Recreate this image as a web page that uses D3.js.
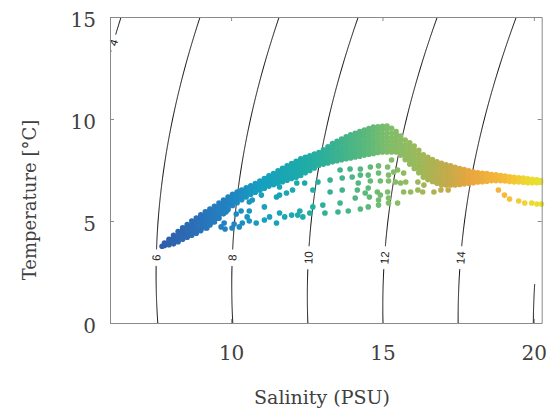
<!DOCTYPE html>
<html>
<head>
<meta charset="utf-8">
<script src="https://cdn.jsdelivr.net/npm/d3@7"></script>
<style>
  body { margin: 0; background: #fff; }
</style>
</head>
<body>
<script>
// ---------- data ----------
var salTicks = [10, 15, 20];
var tempTicks = [0, 5, 10, 15];
var sigmaLevels = [4, 6, 8, 10, 12, 14, 16];

// dense band: one salinity column, list of temperatures
var bandSal = [7.72, 7.8, 7.95, 8.1, 8.25, 8.4, 8.55, 8.7, 8.85, 9.0, 9.15, 9.3, 9.45, 9.6, 9.75, 9.9,
    10.05, 10.2, 10.35, 10.5, 10.65, 10.8, 10.95, 11.1, 11.25, 11.4, 11.55, 11.7, 11.85, 12.0, 12.15,
    12.3, 12.45, 12.6, 12.75, 12.9, 13.05, 13.2, 13.35, 13.5, 13.65, 13.8, 13.95, 14.1, 14.25, 14.4,
    14.55, 14.7, 14.85, 15.0, 15.15, 15.3, 15.45, 15.6, 15.75, 15.9, 16.05, 16.2, 16.35, 16.5, 16.65,
    16.8, 16.95, 17.1, 17.25, 17.4, 17.55, 17.7, 17.85, 18.0, 18.15, 18.3, 18.45, 18.6, 18.75, 18.9,
    19.05, 19.2, 19.35, 19.5, 19.65, 19.8, 19.95, 20.1, 20.22];
var bandTemp = [
    [3.76], [3.8, 3.92], [3.84, 4.0, 4.1], [3.88, 4.05, 4.2, 4.3], [3.98, 4.12, 4.28, 4.48],
    [4.1, 4.25, 4.4, 4.55, 4.67], [4.2, 4.35, 4.5, 4.7, 4.82], [4.3, 4.45, 4.6, 4.8, 5.0],
    [4.4, 4.55, 4.72, 4.9, 5.05, 5.15], [4.53, 4.7, 4.88, 5.05, 5.2, 5.3],
    [4.67, 4.85, 5.0, 5.17, 5.32, 5.45], [4.81, 4.97, 5.13, 5.3, 5.45, 5.58],
    [4.95, 5.1, 5.27, 5.43, 5.58, 5.72], [5.14, 5.3, 5.45, 5.6, 5.75, 5.88],
    [5.35, 5.5, 5.65, 5.8, 5.93, 6.03], [5.56, 5.7, 5.85, 6.0, 6.17], [5.76, 5.9, 6.05, 6.2, 6.31],
    [5.9, 6.05, 6.2, 6.32, 6.42], [6.04, 6.18, 6.33, 6.45, 6.52], [6.18, 6.33, 6.48, 6.63],
    [6.31, 6.45, 6.6, 6.73], [6.41, 6.55, 6.7, 6.84], [6.51, 6.65, 6.8, 6.96], [6.61, 6.75, 6.9, 7.08],
    [6.71, 6.85, 7.0, 7.12, 7.21], [6.78, 6.92, 7.07, 7.2, 7.33], [6.85, 7.0, 7.15, 7.3, 7.46],
    [6.93, 7.08, 7.23, 7.4, 7.58], [7.0, 7.15, 7.3, 7.45, 7.6, 7.7], [7.08, 7.22, 7.38, 7.55, 7.7, 7.82],
    [7.15, 7.3, 7.45, 7.62, 7.78, 7.93], [7.23, 7.38, 7.53, 7.7, 7.88, 8.05],
    [7.36, 7.5, 7.66, 7.82, 7.98, 8.12], [7.48, 7.62, 7.78, 7.94, 8.08, 8.2],
    [7.6, 7.74, 7.9, 8.05, 8.18, 8.28], [7.73, 7.87, 8.03, 8.18, 8.35],
    [7.79, 7.93, 8.09, 8.25, 8.4, 8.49], [7.84, 7.98, 8.14, 8.3, 8.47, 8.64],
    [7.9, 8.05, 8.2, 8.38, 8.55, 8.7, 8.8], [7.95, 8.1, 8.25, 8.42, 8.6, 8.76, 8.91],
    [8.0, 8.15, 8.3, 8.48, 8.65, 8.85, 9.02], [8.05, 8.2, 8.35, 8.52, 8.7, 8.88, 9.02, 9.13],
    [8.09, 8.25, 8.4, 8.58, 8.76, 8.93, 9.08, 9.22], [8.14, 8.3, 8.45, 8.63, 8.8, 8.98, 9.15, 9.3],
    [8.18, 8.33, 8.5, 8.68, 8.86, 9.04, 9.22, 9.39], [8.23, 8.38, 8.55, 8.72, 8.9, 9.1, 9.28, 9.46],
    [8.27, 8.42, 8.6, 8.78, 8.96, 9.15, 9.35, 9.53], [8.31, 8.46, 8.64, 8.82, 9.0, 9.2, 9.4, 9.6],
    [8.36, 8.5, 8.68, 8.86, 9.05, 9.25, 9.45, 9.62], [8.38, 8.52, 8.7, 8.88, 9.08, 9.28, 9.48, 9.64],
    [8.38, 8.52, 8.7, 8.88, 9.08, 9.28, 9.48, 9.65], [8.38, 8.52, 8.7, 8.88, 9.08, 9.3, 9.55],
    [8.38, 8.52, 8.7, 8.88, 9.08, 9.25, 9.39], [8.23, 8.38, 8.55, 8.73, 8.93, 9.16],
    [8.01, 8.17, 8.35, 8.53, 8.73, 8.97], [7.79, 7.95, 8.12, 8.3, 8.5, 8.68, 8.83],
    [7.57, 7.72, 7.9, 8.08, 8.27, 8.47, 8.68], [7.36, 7.52, 7.7, 7.88, 8.07, 8.27, 8.46],
    [7.14, 7.3, 7.48, 7.66, 7.85, 8.05, 8.25], [7.03, 7.18, 7.36, 7.55, 7.74, 7.93, 8.12],
    [6.94, 7.1, 7.28, 7.46, 7.65, 7.84, 8.01], [6.85, 7.0, 7.18, 7.36, 7.55, 7.73, 7.9],
    [6.77, 6.92, 7.1, 7.28, 7.47, 7.65, 7.83], [6.77, 6.92, 7.1, 7.28, 7.45, 7.62, 7.76],
    [6.77, 6.92, 7.1, 7.27, 7.43, 7.58, 7.7], [6.77, 6.92, 7.08, 7.25, 7.42, 7.63],
    [6.79, 6.94, 7.1, 7.26, 7.42, 7.57], [6.82, 6.97, 7.12, 7.28, 7.42, 7.52],
    [6.85, 7.0, 7.15, 7.3, 7.46], [6.88, 7.03, 7.18, 7.3, 7.4], [6.91, 7.05, 7.2, 7.36],
    [6.93, 7.08, 7.22, 7.34], [6.95, 7.1, 7.22, 7.32], [6.98, 7.12, 7.28], [6.98, 7.12, 7.26],
    [6.98, 7.1, 7.23], [6.96, 7.08, 7.2], [6.94, 7.06, 7.17], [6.92, 7.04, 7.14], [6.92, 7.02, 7.12],
    [6.9, 7.0, 7.1], [6.88, 6.98, 7.07], [6.87, 6.96, 7.04], [6.87, 6.96, 7.02], [6.9, 6.98]
];

// looser dots under the band
var looseSal = [8.83, 9.0, 9.2, 9.33, 9.53, 9.67, 9.77, 9.83, 9.8, 10.03, 10.1, 10.17, 10.27, 10.33, 10.37,
    10.53, 10.6, 10.6, 10.6, 10.7, 10.83, 11.0, 11.1, 11.1, 11.27, 11.5, 11.5, 11.6, 11.6, 11.77, 11.83,
    12.0, 12.17, 12.2, 12.27, 12.37, 12.43, 12.6, 12.7, 12.7, 13.03, 13.1, 13.53, 13.6, 13.87, 14.1,
    14.27, 14.53, 14.57, 14.87, 14.87, 14.93, 15.2, 15.2, 15.5,
    12.87, 13.27, 13.67, 14.0, 14.2, 14.27, 14.53, 14.6, 14.87, 14.93, 15.2, 15.2, 15.43,
    13.27, 13.67, 14.17, 14.43, 14.53, 14.83, 15.17,
    13.6, 13.93, 14.27, 14.6, 14.87, 15.17, 15.5, 15.3, 15.37, 15.6, 15.7, 15.7, 15.77, 15.93,
    16.17, 16.17, 16.33, 16.7, 16.93, 17.17, 16.37, 12.03, 11.6,
    18.83, 19.03, 19.2, 19.5, 19.7, 19.93, 20.1, 20.25];
var looseTemp = [4.46, 4.66, 4.66, 4.9, 5.15, 4.71, 4.9, 5.44, 4.61, 4.66, 4.85, 5.34, 4.71, 5.49, 4.9,
    5.2, 5.93, 5.49, 5.0, 6.03, 4.9, 6.27, 5.69, 5.05, 5.2, 4.9, 6.18, 5.39, 6.67, 5.2, 6.37,
    5.29, 6.86, 5.29, 5.49, 5.2, 6.86, 5.39, 6.52, 5.69, 5.78, 5.39, 5.44, 5.88, 5.49, 6.13,
    5.59, 5.69, 6.18, 5.78, 6.03, 6.27, 5.88, 6.13, 5.88,
    6.91, 7.01, 7.11, 7.16, 6.86, 7.25, 7.25, 6.96, 7.35, 6.96, 7.25, 6.96, 6.91,
    6.42, 6.52, 6.52, 6.37, 6.62, 6.42, 6.42,
    7.5, 7.55, 7.55, 7.65, 7.7, 7.65, 7.5, 7.99, 7.4, 6.86, 7.35, 6.42, 6.91, 6.42,
    6.91, 6.52, 6.42, 6.42, 6.52, 6.52, 6.76, 6.52, 6.27,
    6.52, 6.27, 6.08, 5.98, 5.88, 5.88, 5.83, 5.83];

// colour along salinity
var colorSal = [7.7, 8.6, 10.0, 11.0, 12.5, 13.5, 14.5, 15.2, 16.2, 17.1, 17.9, 19.0, 19.7, 20.3];
var colorHex = ['#2e5ea9', '#2d6bb5', '#2085c3', '#15a0c0', '#1eaca6', '#3bb290', '#5cb97a', '#7fbd6a',
    '#9cb95a', '#c2ab4b', '#e9a63f', '#f5b93a', '#f0d432', '#e6e42c'];

// ---------- canvas ----------
var width = 551;
var height = 412;

var canvas = d3.select('body')
    .append('svg')
    .attr('width', width)
    .attr('height', height)

var x = d3.scaleLinear()
    .domain([6, 20.26])
    .range([110, 541.7])

var y = d3.scaleLinear()
    .domain([0, 15])
    .range([323, 17])

var color = d3.scaleLinear()
    .domain(colorSal)
    .range(colorHex)

canvas.append('clipPath')
    .attr('id', 'plotclip')
    .append('rect')
    .attr('x', 110)
    .attr('y', 17)
    .attr('width', 541.7 - 110)
    .attr('height', 323 - 17)

// sigma-t, UNESCO 1980 at surface pressure
function sigmaT(S, T) {
    var rw = 999.842594 + 6.793952e-2 * T - 9.095290e-3 * T * T + 1.001685e-4 * T * T * T
        - 1.120083e-6 * T * T * T * T + 6.536332e-9 * T * T * T * T * T;
    var A = 8.24493e-1 - 4.0899e-3 * T + 7.6438e-5 * T * T - 8.2467e-7 * T * T * T + 5.3875e-9 * T * T * T * T;
    var B = -5.72466e-3 + 1.0227e-4 * T - 1.6546e-6 * T * T;
    var C = 4.8314e-4;
    return rw + A * S + B * Math.pow(S, 1.5) + C * S * S - 1000;
}

function salAt(level, T) {
    var lo = 0, hi = 40;
    for (var k = 0; k < 50; k++) {
        var mid = (lo + hi) / 2;
        if (sigmaT(mid, T) < level) lo = mid; else hi = mid;
    }
    return (lo + hi) / 2;
}

// contour grid stops at this salinity
var gridMaxSal = 20.03;
var tSteps = d3.range(0, 15.001, 0.05);

var line = d3.line()
    .x(function (d) { return x(d[0]); })
    .y(function (d) { return y(d[1]); })

var contours = canvas.append('g').attr('clip-path', 'url(#plotclip)');

sigmaLevels.forEach(function (lev) {
    var pts = [];
    tSteps.forEach(function (t) {
        var s = salAt(lev, t);
        if (s <= gridMaxSal) pts.push([s, t]);
    });
    contours.append('path')
        .attr('d', line(pts))
        .attr('fill', 'none')
        .attr('stroke', '#111')
        .attr('stroke-width', 1)
});

// contour labels
var labelAt = [[4, 13.75], [6, 3.2], [8, 3.2], [10, 3.2], [12, 3.2], [14, 3.2]];
var labels = canvas.append('g');
labelAt.forEach(function (d) {
    var lev = d[0], t = d[1];
    var s = salAt(lev, t);
    var p1 = [x(salAt(lev, t - 0.3)), y(t - 0.3)];
    var p2 = [x(salAt(lev, t + 0.3)), y(t + 0.3)];
    var ang = Math.atan2(p2[1] - p1[1], p2[0] - p1[0]) * 180 / Math.PI;
    var g = labels.append('g')
        .attr('transform', 'translate(' + x(s) + ',' + y(t) + ') rotate(' + ang + ')');
    var w = String(lev).length * 6.5 + 10;
    g.append('rect')
        .attr('x', -w / 2)
        .attr('y', -5)
        .attr('width', w)
        .attr('height', 10)
        .attr('fill', '#fff')
    g.append('text')
        .text(lev)
        .attr('text-anchor', 'middle')
        .attr('dy', '0.36em')
        .attr('font-family', 'Liberation Sans, Arial, sans-serif')
        .attr('font-size', 11.5)
        .attr('fill', '#222')
});

// ---------- scatter ----------
var pts = [];
bandSal.forEach(function (s, i) {
    bandTemp[i].forEach(function (t) { pts.push([s, t]); });
});
looseSal.forEach(function (s, i) { pts.push([s, looseTemp[i]]); });

canvas.append('g')
    .selectAll('circle')
    .data(pts)
    .enter()
    .append('circle')
    .attr('cx', function (d) { return x(d[0]); })
    .attr('cy', function (d) { return y(d[1]); })
    .attr('r', 2.8)
    .attr('fill', function (d) { return color(d[0]); })

// ---------- axes (ticks inside, box) ----------
var axisB = d3.axisBottom(x).tickValues(salTicks).tickSizeInner(-4).tickSizeOuter(0).tickPadding(23);
var axisT = d3.axisTop(x).tickValues(salTicks).tickSizeInner(-4).tickSizeOuter(0).tickFormat('');
var axisL = d3.axisLeft(y).tickValues(tempTicks).tickSizeInner(-4).tickSizeOuter(0).tickPadding(14);
var axisR = d3.axisRight(y).tickValues(tempTicks).tickSizeInner(-4).tickSizeOuter(0).tickFormat('');

function styleAxis(g) {
    g.select('.domain').attr('stroke', '#8a8a8a');
    g.selectAll('.tick line').attr('stroke', '#8a8a8a');
    g.selectAll('.tick text')
        .attr('font-family', 'DejaVu Serif, serif')
        .attr('font-size', 20)
        .attr('fill', '#404040');
}

canvas.append('g').attr('transform', 'translate(0,323)').call(axisB).call(styleAxis);
canvas.append('g').attr('transform', 'translate(0,17)').call(axisT).call(styleAxis);
canvas.append('g').attr('transform', 'translate(110,0)').call(axisL).call(styleAxis)
    .selectAll('.tick text').attr('dy', '0.47em');
canvas.append('g').attr('transform', 'translate(541.7,0)').call(axisR).call(styleAxis);

// axis titles
canvas.append('text')
    .text('Salinity (PSU)')
    .attr('x', 322)
    .attr('y', 404)
    .attr('text-anchor', 'middle')
    .attr('font-family', 'DejaVu Serif, serif')
    .attr('font-size', 19)
    .attr('fill', '#404040')

canvas.append('text')
    .text('Temperature [°C]')
    .attr('transform', 'translate(36,200) rotate(-90)')
    .attr('text-anchor', 'middle')
    .attr('font-family', 'DejaVu Serif, serif')
    .attr('font-size', 18)
    .attr('fill', '#404040')
</script>
</body>
</html>
